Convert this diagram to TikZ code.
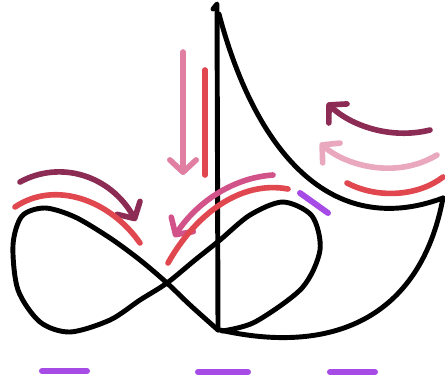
\documentclass[tikz,border=0pt]{standalone}
\usetikzlibrary{arrows.meta}

\definecolor{wine}{HTML}{8C2C55}
\definecolor{coral}{HTML}{E0474F}
\definecolor{rose}{HTML}{D2528A}
\definecolor{blush}{HTML}{E07FA2}
\definecolor{palepink}{HTML}{EAA8BE}
\definecolor{violet}{HTML}{A64BE5}

\begin{document}
\begin{tikzpicture}[
    x=0.02cm, y=-0.02cm,
    outline/.style={draw=black, line width=2.8pt, line cap=round, line join=round},
    stroke/.style={line width=3.2pt, line cap=round},
    barb/.style={stroke, -{Straight Barb[length=7pt, width=15pt, round]}},
    purplebar/.style={draw=violet, line width=3.4pt, line cap=round}
]
    \useasboundingbox (0,0) rectangle (445,385);

    % black outlines
    \draw[outline] (213,9) -- (217,4) -- (218,330);
    \draw[outline] (219,14) .. controls (255,150) and (330,240) .. (443,198);
    \draw[outline] (443,198) .. controls (420,320) and (330,355) .. (220,330);
    \draw[outline] plot[smooth] coordinates {(218,330) (190,305) (167,283) (140,260) (110,238) (75,217) (45,208) (22,216) (13,245) (18,290) (40,322) (70,332) (110,320) (140,300) (167,283) (195,260) (220,240) (250,215) (283,202) (312,216) (320,250) (302,288) (255,322) (222,331)};

    % left pair
    \draw[barb, wine] (20,182) .. controls (60,160) and (110,175) .. (136,221);
    \draw[stroke, coral] (15,207) .. controls (55,180) and (110,200) .. (140,243);

    % centre pair
    \draw[barb, rose] (273,175) .. controls (230,178) and (195,205) .. (174,237);
    \draw[stroke, coral] (288,189) .. controls (240,180) and (195,215) .. (168,263);

    % vertical pair
    \draw[barb, blush] (183,52) -- (183,175);
    \draw[stroke, coral] (205,70) -- (205,175);

    % right group
    \draw[barb, wine] (430,130) .. controls (390,140) and (350,125) .. (327,103);
    \draw[barb, palepink] (437,155) .. controls (395,180) and (345,165) .. (320,143);
    \draw[stroke, coral] (347,183) .. controls (380,200) and (420,195) .. (443,177);

    % purple marks
    \draw[purplebar] (300,193) -- (328,213);
    \draw[purplebar] (42,371) -- (87,371);
    \draw[purplebar] (198,372) -- (248,372);
    \draw[purplebar] (330,372) -- (375,372);
\end{tikzpicture}
\end{document}
